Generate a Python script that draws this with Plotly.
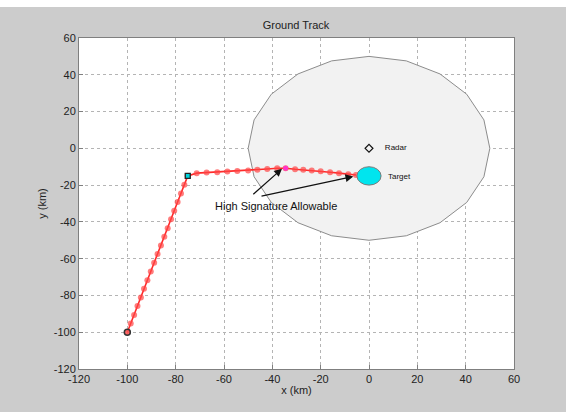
import math
import plotly.graph_objects as go

# ---- data ----
leg1_x = [-100.0, -98.6, -97.2, -95.8, -94.4, -93.1, -91.7, -90.3, -88.9, -87.5,
          -86.1, -84.7, -83.3, -81.9, -80.6, -79.2, -77.8, -76.4, -75.0]
leg1_y = [-100.0, -95.3, -90.6, -85.8, -81.1, -76.4, -71.7, -67.0, -62.2, -57.5,
          -52.8, -48.1, -43.4, -38.6, -33.9, -29.2, -24.5, -19.8, -15.0]
leg2_x = [-75.0, -71.3, -67.2, -62.8, -58.6, -54.5, -50.0, -46.2, -42.1, -38.0,
          -34.5, -30.6, -27.2, -23.7, -20.0, -16.1, -12.4, -8.6, -5.4]
leg2_y = [-15.0, -13.5, -13.2, -13.0, -12.6, -12.3, -12.1, -11.6, -11.2, -10.8,
          -10.8, -11.4, -11.7, -12.1, -12.5, -13.0, -13.5, -14.1, -14.5]

start_pt = (-100.0, -100.0)
waypoint = (-75.0, -15.0)
high_sig_pt = (-34.5, -10.8)
radar_pos = (0.0, 0.0)
target_pos = (0.0, -15.0)
radar_range_km = 50.0
radar_sides = 20
target_radius_km = 5.0

x_ticks = [-120, -100, -80, -60, -40, -20, 0, 20, 40, 60]
x_tick_labels = ["-120", "-100", "-80", "-60", "-40", "-20", "0", "20", "40", "60"]
y_ticks = [-120, -100, -80, -60, -40, -20, 0, 20, 40, 60]
y_tick_labels = ["-120", "-100", "-80", "-60", "-40", "-20", "0", "20", "40", "60"]

# radar coverage polygon
angs = [2 * math.pi * k / radar_sides for k in range(radar_sides + 1)]
cov_x = [radar_pos[0] + radar_range_km * math.cos(a) for a in angs]
cov_y = [radar_pos[1] + radar_range_km * math.sin(a) for a in angs]

fig = go.Figure()
fig.add_trace(go.Scatter(x=cov_x, y=cov_y, mode="lines", fill="toself",
                         fillcolor="#f2f2f2", line=dict(color="#8c8c8c", width=1),
                         hoverinfo="skip", showlegend=False))

track_x = leg1_x + leg2_x[1:]
track_y = leg1_y + leg2_y[1:]
fig.add_trace(go.Scatter(x=track_x, y=track_y, mode="lines+markers",
                         line=dict(color="#ff2a2a", width=1.6),
                         marker=dict(color="rgba(255,70,70,0.7)", size=6,
                                     line=dict(width=0)),
                         showlegend=False))

fig.add_trace(go.Scatter(x=[high_sig_pt[0]], y=[high_sig_pt[1]], mode="markers",
                         marker=dict(color="#ff33cc", size=5), showlegend=False))
fig.add_trace(go.Scatter(x=[start_pt[0]], y=[start_pt[1]], mode="markers",
                         marker=dict(symbol="circle", color="rgba(255,90,90,0.6)", size=6,
                                     line=dict(color="#333", width=1.5)), showlegend=False))
fig.add_trace(go.Scatter(x=[waypoint[0]], y=[waypoint[1]], mode="markers",
                         marker=dict(symbol="square", color="#00d5dd", size=5,
                                     line=dict(color="#222", width=1.3)),
                         showlegend=False))
fig.add_trace(go.Scatter(x=[radar_pos[0]], y=[radar_pos[1]], mode="markers+text",
                         text=["     Radar"], textposition="middle right",
                         textfont=dict(size=8, color="#111", family="Liberation Sans"),
                         marker=dict(symbol="diamond-open", color="#111", size=6,
                                     line=dict(width=1.2)), showlegend=False))

fig.add_shape(type="circle", xref="x", yref="y",
              x0=target_pos[0] - target_radius_km, x1=target_pos[0] + target_radius_km,
              y0=target_pos[1] - target_radius_km, y1=target_pos[1] + target_radius_km,
              fillcolor="#00e5ee", line=dict(color="#7a7a7a", width=1), layer="above")
fig.add_trace(go.Scatter(x=[target_pos[0]], y=[target_pos[1]], mode="markers",
                         marker=dict(symbol="square-open", color="#111", size=6,
                                     line=dict(width=1.2)), showlegend=False))
fig.add_annotation(x=target_pos[0] + 7, y=target_pos[1] - 0.5, text="Target",
                   showarrow=False, xanchor="left",
                   font=dict(size=8, color="#111", family="Liberation Sans"))

# annotation text and arrows
fig.add_annotation(x=-38.5, y=-31.5, text="High Signature Allowable", showarrow=False,
                   font=dict(size=11, color="#111", family="Liberation Sans"))
fig.add_annotation(x=high_sig_pt[0] - 1.5, y=high_sig_pt[1] - 0.3, ax=-48.5, ay=-25.7,
                   axref="x", ayref="y", text="", showarrow=True, arrowhead=2,
                   arrowsize=1.3, arrowwidth=1.2, arrowcolor="#111")
fig.add_annotation(x=-6.5, y=-15.3, ax=-45.1, ay=-26.2,
                   axref="x", ayref="y", text="", showarrow=True, arrowhead=2,
                   arrowsize=1.3, arrowwidth=1.2, arrowcolor="#111")

# white strip at the very top of the image
fig.add_shape(type="rect", xref="paper", yref="paper",
              x0=-79 / 435, x1=1 + 52 / 435, y0=1 + 31 / 331, y1=1 + 38 / 331,
              fillcolor="white", line=dict(width=0), layer="above")

axis_common = dict(showgrid=True, gridcolor="#b4b4b4", griddash="dot", gridwidth=1,
                   zeroline=False, showline=True, linecolor="#7f7f7f", linewidth=1,
                   mirror=True, ticks="inside", ticklen=4, tickcolor="#7f7f7f",
                   tickfont=dict(size=11, color="#222", family="Liberation Sans"))

fig.update_layout(
    width=566, height=412,
    margin=dict(l=79, r=52, t=38, b=43),
    paper_bgcolor="#cccccc", plot_bgcolor="white",
    title=dict(text="Ground Track", x=0.523, xanchor="center", y=1 - 25 / 412,
               yanchor="middle",
               font=dict(size=11, color="#222", family="Liberation Sans")),
    xaxis=dict(range=[-120, 60], tickvals=x_ticks, ticktext=x_tick_labels,
               title=dict(text="x (km)", standoff=2,
                          font=dict(size=11, color="#222", family="Liberation Sans")),
               **axis_common),
    yaxis=dict(range=[-120, 60], tickvals=y_ticks, ticktext=y_tick_labels,
               title=dict(text="y (km)", standoff=4,
                          font=dict(size=11, color="#222", family="Liberation Sans")),
               **axis_common),
    showlegend=False,
)

fig.write_html("out.html", config={"displayModeBar": False},
               post_script="document.body.style.margin='0';document.body.style.overflow='hidden';")
